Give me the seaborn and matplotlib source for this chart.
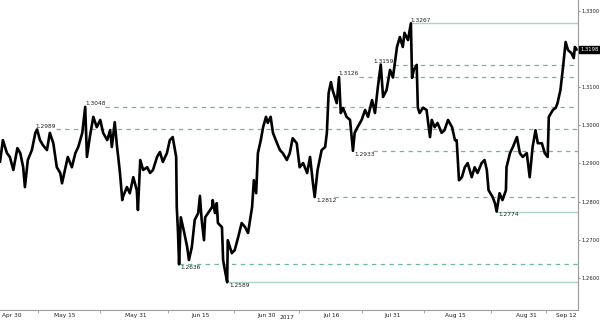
import matplotlib
matplotlib.use("Agg")
import matplotlib.pyplot as plt
import matplotlib.transforms as mtransforms
import seaborn as sns
import pandas as pd

# ---- data (session index = trading days since Apr 30 2017) ----
session = [
    -1.4, -0.9, -0.2, 0.3, 0.9, 1.6, 2.1, 2.6, 2.9, 3.4, 4.1, 4.7, 5.0, 5.5, 6.0, 6.7, 7.2, 7.8, 8.4, 9.0,
    9.3, 9.8, 10.3, 11.0, 11.6, 12.1, 12.8, 13.3, 13.6, 14.1, 14.7, 15.3, 15.9,
    16.4, 17.1, 17.6, 17.9, 18.4, 18.8, 19.0, 19.3, 19.7, 19.8, 20.5, 21.0, 21.6, 22.2, 22.4, 22.8, 23.3,
    24.0, 24.5, 25.0, 25.7, 26.2, 26.7, 27.4, 27.9, 28.4, 29.0, 29.1, 29.3, 29.5, 29.8, 30.3, 30.9, 31.2,
    31.7, 32.2, 32.8,
    33.1, 33.4, 33.8, 34.0, 34.5, 35.2, 35.3, 35.7, 36.0, 36.2, 36.9, 37.1, 37.4, 37.8, 37.9, 38.6, 39.1,
    39.7, 40.3, 40.9, 41.4, 42.1, 42.4, 42.8, 43.1, 43.6, 44.0, 44.5, 44.8, 45.3, 45.7, 46.4, 46.9, 47.4,
    48.1, 48.6, 49.1, 49.8, 50.3,
    50.9, 51.6, 52.1, 52.6, 52.9, 53.4, 54.1, 54.7, 55.0, 55.3, 55.7, 56.0, 56.7, 57.1, 57.4, 57.8, 58.4,
    59.0, 59.5, 59.8, 60.3, 61.0, 61.6, 62.1, 62.8, 63.3, 63.8, 64.3, 64.7, 65.3, 65.9, 66.4, 67.1, 67.6,
    68.1, 68.4, 69.0, 69.5, 69.7, 70.0, 70.5, 70.7, 71.0, 71.6, 72.2, 72.8, 73.1, 73.6, 74.1, 74.8, 75.3,
    75.9, 76.6, 77.1, 77.4, 77.8, 78.3, 78.8, 79.3, 80.0, 80.5, 81.0, 81.7, 82.2, 82.6, 82.9, 83.6, 84.0,
    84.3, 84.8, 85.3, 85.9, 86.0, 86.6, 87.1, 87.8, 88.3, 88.8, 89.5, 90.0, 90.5, 91.0, 91.4, 92.1, 92.6,
    93.1, 93.3, 94.0, 94.5, 94.8, 95.3, 95.7, 96.2, 96.6, 97.2, 97.6, 97.8, 98.1,
]
price = [
    1.2904, 1.2961, 1.2927, 1.2917, 1.2883, 1.2940, 1.2927, 1.2890, 1.2838, 1.2909, 1.2935, 1.2980, 1.2989,
    1.2961, 1.2948, 1.2935, 1.2980, 1.2953, 1.2890, 1.2875, 1.2848, 1.2883, 1.2917, 1.2890, 1.2927, 1.2943,
    1.2980, 1.3048, 1.2917, 1.2969, 1.3022, 1.2995, 1.3014,
    1.2980, 1.2961, 1.2987, 1.2943, 1.3008, 1.2943, 1.2917, 1.2875, 1.2804, 1.2812, 1.2838, 1.2822, 1.2864,
    1.2830, 1.2778, 1.2909, 1.2883, 1.2890, 1.2875, 1.2883, 1.2917, 1.2930, 1.2904, 1.2927, 1.2961, 1.2969,
    1.2917, 1.2786, 1.2725, 1.2636, 1.2759, 1.2725, 1.2681, 1.2647, 1.2681, 1.2752, 1.2770,
    1.2815, 1.2752, 1.2699, 1.2759, 1.2770, 1.2786, 1.2804, 1.2770, 1.2796, 1.2744, 1.2733, 1.2647, 1.2621,
    1.2589, 1.2699, 1.2665, 1.2673, 1.2707, 1.2744, 1.2733, 1.2718, 1.2786, 1.2856, 1.2822, 1.2927, 1.2961,
    1.2995, 1.3022, 1.3006, 1.3022, 1.2980, 1.2953, 1.2935, 1.2927, 1.2909, 1.2927, 1.2966, 1.2953, 1.2890,
    1.2901, 1.2875, 1.2917, 1.2848, 1.2812, 1.2883, 1.2935, 1.2943, 1.2980, 1.3084, 1.3113, 1.3092, 1.3058,
    1.3126, 1.3032, 1.3045, 1.3022, 1.3014, 1.2933, 1.2980, 1.2995, 1.3014, 1.3040, 1.3022, 1.3066, 1.3032,
    1.3100, 1.3159, 1.3074, 1.3092, 1.3145, 1.3125, 1.3205, 1.3231,
    1.3205, 1.3242, 1.3223, 1.3267, 1.3124, 1.3145, 1.3158, 1.3046, 1.3032, 1.3046, 1.3040, 1.2969, 1.3014,
    1.2995, 1.3006, 1.2980, 1.2987, 1.3014, 1.2995, 1.2961, 1.2961, 1.2856, 1.2864, 1.2890, 1.2901, 1.2864,
    1.2890, 1.2875, 1.2901, 1.2909, 1.2883, 1.2830, 1.2812, 1.2796, 1.2774, 1.2822, 1.2804, 1.2830, 1.2890,
    1.2927, 1.2943, 1.2969, 1.2927, 1.2917, 1.2927, 1.2864, 1.2943, 1.2987, 1.2953, 1.2953, 1.2927, 1.2917,
    1.3022, 1.3040, 1.3046, 1.3058, 1.3092, 1.3145, 1.3218, 1.3197, 1.3189, 1.3176, 1.3205, 1.3198,
]

# annotated levels: value, session where it occurred, above/below, solid?
level_values = [1.3267, 1.3159, 1.3126, 1.3048, 1.2989, 1.2933, 1.2812, 1.2774, 1.2636, 1.2589]
level_session = [69.5, 63.2, 57.1, 13.4, 4.8, 59.5, 52.9, 84.3, 29.5, 37.8]
level_high = [True, True, True, True, True, False, False, False, False, False]
level_solid = [True, False, False, False, False, False, False, True, False, True]

tick_pos = [0.6, 9.7, 22.0, 33.2, 44.6, 55.7, 66.3, 77.2, 89.4, 96.3]
tick_labels = ["Apr 30", "May 15", "May 31", "Jun 15", "Jun 30", "Jul 16", "Jul 31", "Aug 15", "Aug 31", "Sep 12"]
y_ticks = [1.26, 1.27, 1.28, 1.29, 1.30, 1.31, 1.32, 1.33]
last_price = 1.3198

df = pd.DataFrame({"session": session, "price": price})

sns.set_theme(style="white")
plt.rcParams["font.family"] = ["DejaVu Sans"]

fig = plt.figure(figsize=(6.0, 3.23), dpi=100)
ax = fig.add_axes([0.0, 0.04, 0.963, 0.96])

dash_col = "#6db7a6"
solid_col = "#a9d4ca"
FS = 4.2
for v, s, hi, solid in zip(level_values, level_session, level_high, level_solid):
    if solid or v == 1.2636:
        start = s
    else:
        start = s + 3.4
    if solid:
        ax.plot([start, 99], [v, v], color=solid_col, lw=1.0, zorder=1)
    else:
        ax.plot([start, 99], [v, v], color=dash_col, lw=0.9, ls=(0, (3.5, 3.5)), zorder=1)
    if hi:
        ax.text(s - 0.1, v + 0.0002, f"{v:.4f}", fontsize=FS, color="#222222",
                ha="left", va="bottom", zorder=4)
    else:
        ax.text(s + 0.3, v - 0.0002, f"{v:.4f}", fontsize=FS, color="#222222",
                ha="left", va="top", zorder=4)

sns.lineplot(data=df, x="session", y="price", ax=ax, color="black", lw=1.9,
             sort=False, estimator=None, zorder=3)

ax.set_xlim(-1.4, 98.3)
ax.set_ylim(1.2516, 1.3328)
ax.set_xlabel("")
ax.set_ylabel("")

ax.yaxis.tick_right()
ax.set_yticks(y_ticks)
ax.set_yticklabels([f"{t:.4f}" for t in y_ticks])
ax.set_xticks(tick_pos)
ax.set_xticklabels(tick_labels)
ax.tick_params(axis="y", labelsize=3.8, length=1.5, width=0.6, color="#777777",
               labelcolor="#222222", pad=1.0, right=True, left=False)
ax.tick_params(axis="x", labelsize=FS, length=0, labelcolor="#222222", pad=2)
mid = [(a + b) / 2 for a, b in zip(tick_pos[:-1], tick_pos[1:])]
ax.set_xticks(mid, minor=True)
ax.tick_params(axis="x", which="minor", length=2, width=0.6, color="#999999", bottom=True)

for side in ["top", "left"]:
    ax.spines[side].set_visible(False)
ax.spines["right"].set_color("#9a9a9a")
ax.spines["right"].set_linewidth(0.8)
ax.spines["bottom"].set_color("#9a9a9a")
ax.spines["bottom"].set_linewidth(0.8)

trans = mtransforms.blended_transform_factory(ax.transAxes, ax.transData)
ax.text(1.004, last_price, f"{last_price:.4f}", transform=trans, fontsize=3.8, color="white",
        ha="left", va="center", zorder=5,
        bbox=dict(boxstyle="square,pad=0.2", fc="black", ec="black"))

fig.text(0.478, 0.008, "2017", fontsize=FS, color="#222222", ha="center", va="bottom")

fig.savefig("out.png", dpi=100)
